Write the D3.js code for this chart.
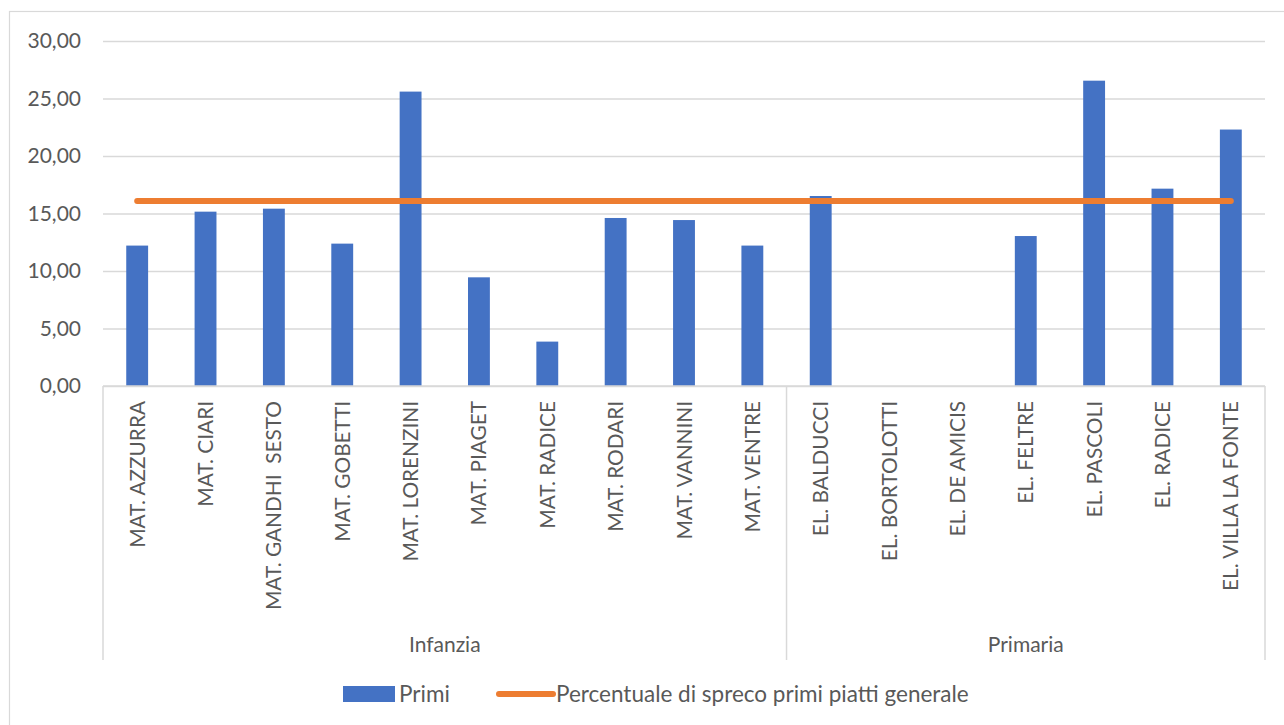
<!DOCTYPE html>
<html>
<head>
<meta charset="utf-8">
<script src="https://cdn.jsdelivr.net/npm/d3@7"></script>
<style>
  html, body { margin: 0; padding: 0; background: #fff; }
  svg { display: block; }
  text { font-family: Lato, "Open Sans", sans-serif; fill: #595959; }
</style>
</head>
<body>
<svg id="chart" width="1284" height="725"></svg>
<script>
// ---- Data ----
const categories = [
  "MAT. AZZURRA", "MAT. CIARI", "MAT. GANDHI  SESTO", "MAT. GOBETTI", "MAT. LORENZINI",
  "MAT. PIAGET", "MAT. RADICE", "MAT. RODARI", "MAT. VANNINI", "MAT. VENTRE",
  "EL. BALDUCCI", "EL. BORTOLOTTI", "EL. DE AMICIS", "EL. FELTRE", "EL. PASCOLI",
  "EL. RADICE", "EL. VILLA LA FONTE"
];
const groups = ["Infanzia", "Infanzia", "Infanzia", "Infanzia", "Infanzia",
  "Infanzia", "Infanzia", "Infanzia", "Infanzia", "Infanzia",
  "Primaria", "Primaria", "Primaria", "Primaria", "Primaria", "Primaria", "Primaria"];
const primi = [12.21, 15.16, 15.42, 12.38, 25.60, 9.45, 3.86, 14.61, 14.43, 12.21,
  16.52, 0, 0, 13.04, 26.55, 17.16, 22.30];
const mediaGenerale = 16.08;
const yTicks = [0, 5, 10, 15, 20, 25, 30];
const seriesNames = ["Primi", "Percentuale di spreco primi piatti generale"];

// ---- Layout ----
const svg = d3.select("#chart");
const plotLeft = 103, plotRight = 1265, plotTop = 41, plotBottom = 386;
const axisBottom = 660;
const gridColor = "#d9d9d9";
const barColor = "#4472c4";
const lineColor = "#ed7d31";

// outer chart border
svg.append("rect")
  .attr("x", 9.5).attr("y", 11.5)
  .attr("width", 1400).attr("height", 900)
  .attr("fill", "none").attr("stroke", gridColor).attr("stroke-width", 1.2);

const x = d3.scaleBand()
  .domain(categories)
  .range([plotLeft, plotRight])
  .paddingInner(0.68)
  .paddingOuter(0.34);

const y = d3.scaleLinear().domain([0, 30]).range([plotBottom, plotTop]);

const locale = d3.formatLocale({ decimal: ",", thousands: ".", grouping: [3], currency: ["€", ""] });
const fmt = locale.format(".2f");

// gridlines + y labels
const yAxis = d3.axisLeft(y)
  .tickValues(yTicks)
  .tickFormat(fmt)
  .tickSize(-(plotRight - plotLeft))
  .tickPadding(22);
const gy = svg.append("g")
  .attr("transform", `translate(${plotLeft},0)`)
  .call(yAxis);
gy.select(".domain").remove();
gy.selectAll(".tick line").attr("stroke", gridColor).attr("stroke-width", 1.5);
gy.selectAll(".tick text")
  .attr("fill", "#595959")
  .style("font-size", "21px")
  .style("font-family", "Lato, 'Open Sans', sans-serif");

// bars
svg.append("g").selectAll("rect")
  .data(categories.map((c, i) => ({ c, v: primi[i] })))
  .join("rect")
  .attr("x", d => x(d.c))
  .attr("width", x.bandwidth())
  .attr("y", d => y(d.v))
  .attr("height", d => y(0) - y(d.v))
  .attr("fill", barColor);

// category axis line
svg.append("line")
  .attr("x1", plotLeft).attr("x2", plotRight)
  .attr("y1", plotBottom).attr("y2", plotBottom)
  .attr("stroke", gridColor).attr("stroke-width", 1.5);

// average line
const lineData = categories.map(c => ({ c, v: mediaGenerale }));
svg.append("path")
  .datum(lineData)
  .attr("fill", "none")
  .attr("stroke", lineColor)
  .attr("stroke-width", 6)
  .attr("stroke-linecap", "round")
  .attr("d", d3.line()
    .x(d => x(d.c) + x.bandwidth() / 2)
    .y(d => y(d.v)));

// category labels (rotated)
svg.append("g").selectAll("text")
  .data(categories)
  .join("text")
  .attr("transform", d => `translate(${x(d) + x.bandwidth() / 2},401) rotate(-90)`)
  .attr("text-anchor", "end")
  .attr("dy", "0.36em")
  .style("font-size", "20.8px")
  .style("white-space", "pre")
  .attr("xml:space", "preserve")
  .text(d => d);

// group separators and labels
const groupNames = Array.from(new Set(groups));
const groupInfo = groupNames.map(g => {
  const idx = groups.map((gg, i) => gg === g ? i : -1).filter(i => i >= 0);
  const step = x.step();
  const start = x(categories[idx[0]]) - x.paddingInner() * step / 2;
  const end = x(categories[idx[idx.length - 1]]) + x.bandwidth() + x.paddingInner() * step / 2;
  return { g, start, end };
});
const bounds = [groupInfo[0].start, ...groupInfo.map(d => d.end)];
svg.append("g").selectAll("line")
  .data(bounds)
  .join("line")
  .attr("x1", d => d).attr("x2", d => d)
  .attr("y1", plotBottom).attr("y2", axisBottom)
  .attr("stroke", gridColor).attr("stroke-width", 1.5);

svg.append("g").selectAll("text")
  .data(groupInfo)
  .join("text")
  .attr("x", d => (d.start + d.end) / 2)
  .attr("y", 652)
  .attr("text-anchor", "middle")
  .style("font-size", "21px")
  .text(d => d.g);

// legend
const lg = svg.append("g");
lg.append("rect")
  .attr("x", 343).attr("y", 686).attr("width", 52).attr("height", 16)
  .attr("fill", barColor);
lg.append("text")
  .attr("x", 399).attr("y", 694).attr("dy", "0.36em")
  .style("font-size", "22.5px")
  .text(seriesNames[0]);
lg.append("line")
  .attr("x1", 499).attr("x2", 553).attr("y1", 694).attr("y2", 694)
  .attr("stroke", lineColor).attr("stroke-width", 6).attr("stroke-linecap", "round");
lg.append("text")
  .attr("x", 556).attr("y", 694).attr("dy", "0.36em")
  .style("font-size", "22.5px")
  .text(seriesNames[1]);
</script>
</body>
</html>
